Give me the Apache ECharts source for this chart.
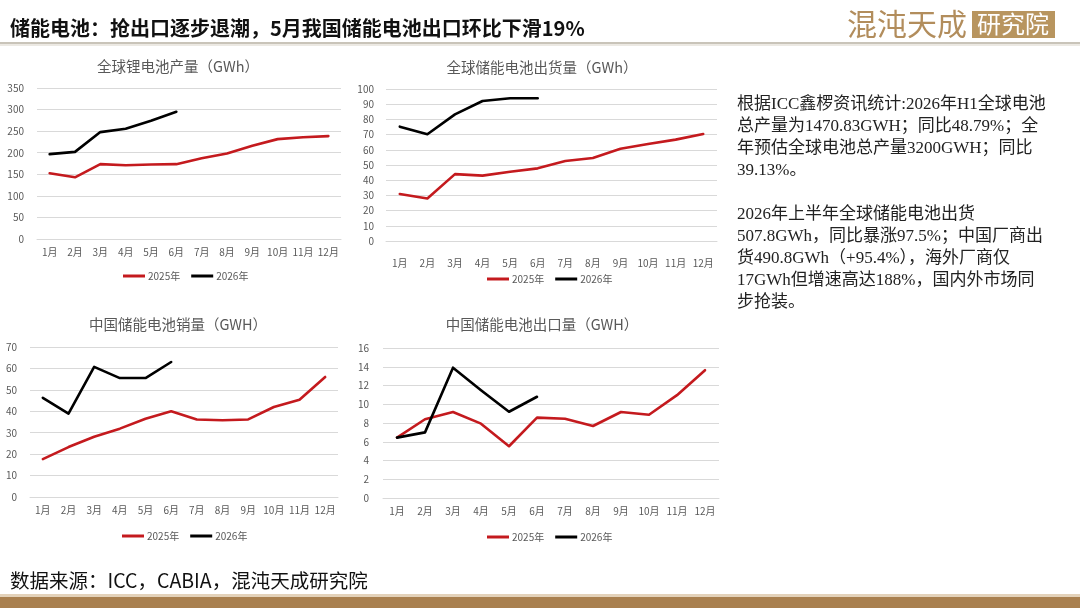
<!DOCTYPE html>
<html>
<head>
<meta charset="utf-8">
<script src="https://cdn.jsdelivr.net/npm/echarts@6/dist/echarts.min.js"></script>
<style>
html,body{margin:0;padding:0;background:#fff;}
#c{width:1080px;height:608px;}
</style>
</head>
<body>
<div id="c"></div>
<script>
// ---- data ----
const months = ['1月','2月','3月','4月','5月','6月','7月','8月','9月','10月','11月','12月'];
const seriesNames = ['2025年','2026年'];

const chartTitles = ['全球锂电池产量（GWh）','全球储能电池出货量（GWh）','中国储能电池销量（GWH）','中国储能电池出口量（GWH）'];

const liProd2025 = [152.5,143,173.5,171,172.7,173.5,187,198,216,231.5,236,238.5];
const liProd2026 = [196.7,202,247.8,255.5,274,295];

const essShip2025 = [30.9,28,44,43,45.6,47.8,52.6,54.6,60.7,63.8,66.7,70.4];
const essShip2026 = [75.2,70.2,83.3,92.1,93.9,93.9];

const cnEssSales2025 = [17.7,23.3,28.1,31.9,36.5,40,36.2,35.8,36.2,42,45.4,56];
const cnEssSales2026 = [46.3,38.9,60.7,55.5,55.5,63];

const cnEssExport2025 = [6.44,8.4,9.17,7.93,5.52,8.57,8.46,7.68,9.17,8.88,10.97,13.63];
const cnEssExport2026 = [6.44,7.0,13.9,11.5,9.2,10.8];

const yMax = [350,100,70,16];
const yInterval = [50,10,10,2];

const headline = '储能电池：抢出口逐步退潮，5月我国储能电池出口环比下滑19%';
const sourceText = '数据来源：ICC，CABIA，混沌天成研究院';
const noteLines = [
  '根据ICC鑫椤资讯统计:2026年H1全球电池',
  '总产量为1470.83GWH；同比48.79%；全',
  '年预估全球电池总产量3200GWH；同比',
  '39.13%。',
  '',
  '2026年上半年全球储能电池出货',
  '507.8GWh，同比暴涨97.5%；中国厂商出',
  '货490.8GWh（+95.4%），海外厂商仅',
  '17GWh但增速高达188%，国内外市场同',
  '步抢装。'
];

// ---- layout ----
const RED = '#C41A1E', BLACK = '#000000', GRAY = '#595959', GRID = '#D9D9D9';
const FONT = '"Noto Sans CJK SC", sans-serif';
const grids = [
  {left:37, top:88, width:304, height:151},
  {left:386, top:89, width:331, height:152},
  {left:30, top:347, width:308, height:150},
  {left:383, top:348, width:336, height:150}
];
const xLabelMargin = [8, 17, 8, 8];
const yLabelMargin = [13, 12, 13, 14];
const titlePos = [[173,64],[537,65],[173,322],[537,322]];
const legendPos = [[118,266],[482,269],[117,526],[482,527]];
const pairs = [[liProd2025,liProd2026],[essShip2025,essShip2026],[cnEssSales2025,cnEssSales2026],[cnEssExport2025,cnEssExport2026]];

const chart = echarts.init(document.getElementById('c'), null, {renderer:'canvas'});

const option = {
  backgroundColor:'#ffffff',
  animation:false,
  textStyle:{fontFamily:FONT},
  grid: grids.map(g => Object.assign({containLabel:false}, g)),
  xAxis: grids.map((g,i) => ({
    type:'category', gridIndex:i, data:months, boundaryGap:true,
    axisLine:{show:true, lineStyle:{color:GRID, width:1}},
    axisTick:{show:false},
    axisLabel:{color:GRAY, fontSize:10, margin:xLabelMargin[i], interval:0, fontFamily:FONT}
  })),
  yAxis: grids.map((g,i) => ({
    type:'value', gridIndex:i, min:0, max:yMax[i], interval:yInterval[i],
    axisLine:{show:false}, axisTick:{show:false},
    splitLine:{lineStyle:{color:GRID, width:1}},
    axisLabel:{color:GRAY, fontSize:10, margin:yLabelMargin[i], fontFamily:FONT}
  })),
  title: chartTitles.map((t,i) => ({
    text:t, left:titlePos[i][0], top:titlePos[i][1]-10, textAlign:'center',
    textStyle:{color:GRAY, fontSize:14.5, fontWeight:'normal', fontFamily:FONT}
  })),
  legend: legendPos.map((p,i) => ({
    data:seriesNames, left:p[0], top:p[1], orient:'horizontal',
    icon:'rect', itemWidth:22, itemHeight:3, itemGap:11,
    textStyle:{color:GRAY, fontSize:10, padding:[0,0,0,-2], fontFamily:FONT},
    selectedMode:false
  })),
  series: [],
  graphic: []
};

pairs.forEach((pr,i) => {
  option.series.push({
    name:seriesNames[0], type:'line', xAxisIndex:i, yAxisIndex:i, data:pr[0],
    showSymbol:false, symbol:'none', lineStyle:{color:RED, width:2.6, join:'round', cap:'round'}, itemStyle:{color:RED}
  });
  option.series.push({
    name:seriesNames[1], type:'line', xAxisIndex:i, yAxisIndex:i, data:pr[1],
    showSymbol:false, symbol:'none', lineStyle:{color:BLACK, width:2.6, join:'round', cap:'round'}, itemStyle:{color:BLACK}
  });
});

option.graphic = [
  // header
  {type:'text', left:10, top:18, style:{text:headline, fill:'#111', fontSize:20, fontWeight:'bold', fontFamily:FONT}},
  {type:'rect', left:0, top:42, shape:{width:1080, height:2}, style:{fill:'#C9C4B9'}},
  {type:'rect', left:0, top:44, shape:{width:1080, height:2}, style:{fill:'#ECE9E3'}},
  // logo
  {type:'text', left:847, top:9, style:{text:'混沌天成', fill:'#B28D5C', fontSize:30, fontFamily:FONT, fontWeight:'normal'}},
  {type:'rect', left:972, top:11, shape:{width:83, height:27}, style:{fill:'#B8955F'}},
  {type:'text', left:977, top:12, style:{text:'研究院', fill:'#ffffff', fontSize:24, fontFamily:FONT}},
  // notes
  {type:'text', left:737, top:94, style:{text:noteLines.join('\n'), fill:'#222', fontSize:17, lineHeight:22, fontFamily:'"Liberation Serif", "Noto Sans CJK SC", serif'}},
  // footer
  {type:'text', left:10, top:571, style:{text:sourceText, fill:'#111', fontSize:19.5, fontFamily:FONT}},
  {type:'rect', left:0, top:594, shape:{width:1080, height:3}, style:{fill:'#E3D2BA'}},
  {type:'rect', left:0, top:597, shape:{width:1080, height:11}, style:{fill:'#A9804F'}}
];

chart.setOption(option);
</script>
</body>
</html>
